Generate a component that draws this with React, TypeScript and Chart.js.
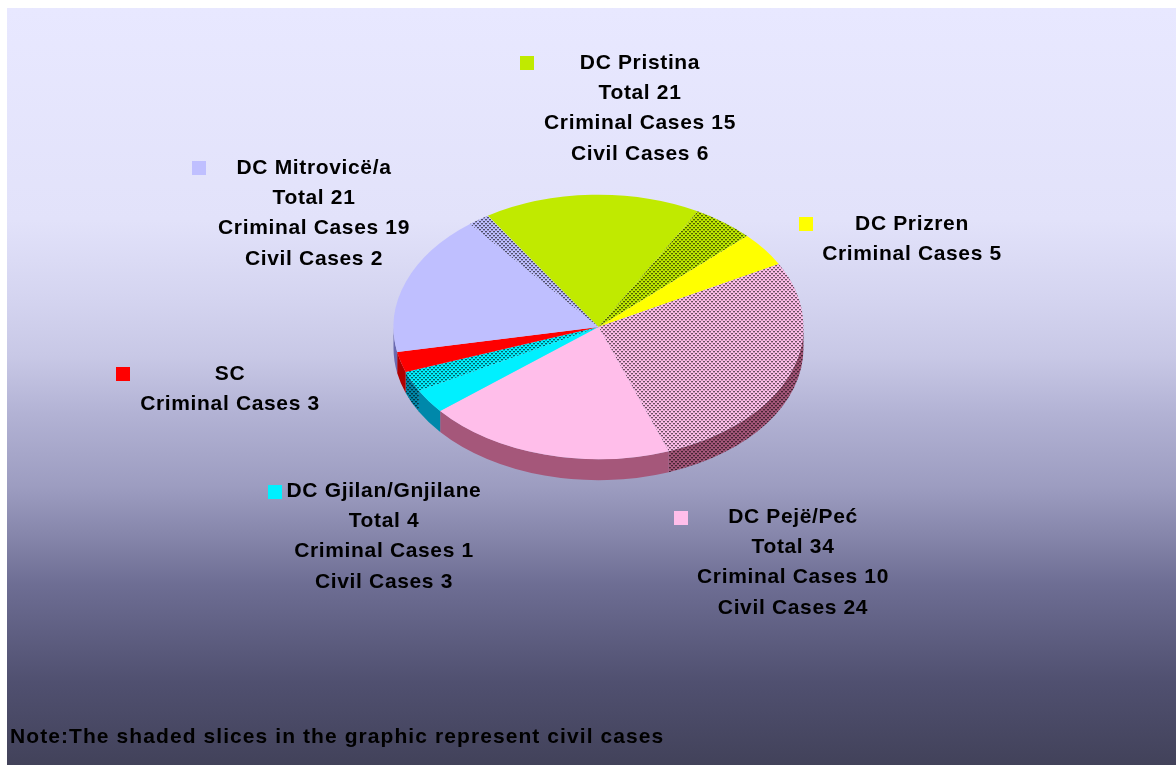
import React, { useEffect, useRef } from "react";
import { Chart, registerables } from "chart.js";

Chart.register(...registerables);

// Slice sizes (clockwise from the top-left green edge)
const sliceNames = [
  "DC Pristina criminal", "DC Pristina civil", "DC Prizren criminal",
  "DC Pejë/Peć civil", "DC Pejë/Peć criminal", "DC Gjilan/Gnjilane criminal",
  "DC Gjilan/Gnjilane civil", "SC criminal", "DC Mitrovicë/a criminal", "DC Mitrovicë/a civil",
];
const sliceValues = [15.1, 4.3, 3.7, 24.1, 17.3, 2.6, 2.2, 2.2, 15.2, 1.5];
const sliceColors = ["#C0EA00", "#C0EA00", "#FFFF00", "#FFBEEA", "#FFBEEA", "#00F0FF", "#00F0FF", "#FF0000", "#BFBFFF", "#BFBFFF"];
const sliceShaded = [false, true, false, true, false, false, true, false, false, true];
const wallColors = ["#7A9500", "#7A9500", "#A5A500", "#A5577A", "#A5577A", "#0088AA", "#0088AA", "#B00000", "#6A6AB0", "#6A6AB0"];

const labelBlocks = [
  { color: "#C0EA00", lines: ["DC Pristina", "Total 21", "Criminal Cases 15", "Civil Cases 6"], cx: 640, y: 62, mx: 527, my: 63 },
  { color: "#FFFF00", lines: ["DC Prizren", "Criminal Cases 5"], cx: 912, y: 223, mx: 806, my: 224 },
  { color: "#BFBFFF", lines: ["DC Mitrovicë/a", "Total 21", "Criminal Cases 19", "Civil Cases 2"], cx: 314, y: 167, mx: 199, my: 168 },
  { color: "#FF0000", lines: ["SC", "Criminal Cases 3"], cx: 230, y: 373, mx: 123, my: 374 },
  { color: "#00F0FF", lines: ["DC Gjilan/Gnjilane", "Total 4", "Criminal Cases 1", "Civil Cases 3"], cx: 384, y: 490, mx: 275, my: 492 },
  { color: "#FFBEEA", lines: ["DC Pejë/Peć", "Total 34", "Criminal Cases 10", "Civil Cases 24"], cx: 793, y: 516, mx: 681, my: 518 },
];
const noteText = "Note:The shaded slices in the graphic represent civil cases";

const Y_SQUASH = 0.645;
const DEPTH = 21;
const OX = 7;
const OY = 8;

function hatch(ctx: CanvasRenderingContext2D, base: string, dark = "rgba(0,0,0,0.78)") {
  const tile = document.createElement("canvas");
  tile.width = 4;
  tile.height = 4;
  const t = tile.getContext("2d")!;
  t.fillStyle = base;
  t.fillRect(0, 0, 4, 4);
  t.fillStyle = dark;
  t.fillRect(0, 0, 2, 1);
  t.fillRect(2, 2, 2, 1);
  const p = ctx.createPattern(tile, "repeat")!;
  p.setTransform(new DOMMatrix().scale(1, 1 / Y_SQUASH));
  return p;
}

const pie3d = {
  id: "pie3d",
  beforeDatasetDraw(chart: any) {
    const ctx = chart.ctx as CanvasRenderingContext2D;
    const arcs = chart.getDatasetMeta(0).data;
    const { x: cx, y: cy } = arcs[0];
    ctx.save();
    ctx.translate(0, cy);
    ctx.scale(1, Y_SQUASH);
    ctx.translate(0, -cy);
    const d = DEPTH / Y_SQUASH;
    arcs.forEach((arc: any, i: number) => {
      const segs: [number, number][] = [];
      // the visible front wall lies between 0 and PI in canvas angles
      for (const k of [0, 2 * Math.PI]) {
        const s = Math.max(arc.startAngle - k, 0);
        const e = Math.min(arc.endAngle - k, Math.PI);
        if (e > s) segs.push([s, e]);
      }
      segs.forEach(([s, e]) => {
        ctx.beginPath();
        ctx.arc(cx, cy, arc.outerRadius, s, e);
        ctx.arc(cx, cy + d, arc.outerRadius, e, s, true);
        ctx.closePath();
        ctx.fillStyle = sliceShaded[i] ? hatch(ctx, wallColors[i]) : wallColors[i];
        ctx.fill();
      });
    });
  },
  afterDatasetDraw(chart: any) {
    chart.ctx.restore();
  },
  afterDraw(chart: any) {
    const ctx = chart.ctx as CanvasRenderingContext2D;
    ctx.save();
    ctx.fillStyle = "#000";
    ctx.textAlign = "center";
    ctx.textBaseline = "middle";
    ctx.font = "bold 21px 'Liberation Sans'";
    (ctx as any).letterSpacing = "0.65px";
    labelBlocks.forEach((b) => {
      ctx.fillStyle = b.color;
      ctx.fillRect(b.mx - 7 - OX, b.my - 7 - OY, 14, 14);
      ctx.fillStyle = "#000";
      b.lines.forEach((line, i) => ctx.fillText(line, b.cx - OX, b.y + i * 30.3 - OY + 1));
    });
    ctx.textAlign = "left";
    (ctx as any).letterSpacing = "1.08px";
    ctx.fillText(noteText, 10 - OX, 737 - OY);
    ctx.restore();
  },
};

export default function App() {
  const ref = useRef<HTMLCanvasElement>(null);
  useEffect(() => {
    const ctx = ref.current!.getContext("2d")!;
    const chart = new Chart(ctx, {
      type: "pie",
      data: {
        labels: sliceNames,
        datasets: [{
          data: sliceValues,
          backgroundColor: sliceColors.map((c, i) => (sliceShaded[i] ? hatch(ctx, c) : c)),
          borderWidth: 0,
          hoverOffset: 0,
        }],
      },
      options: {
        responsive: false,
        animation: false,
        rotation: -32.7,
        layout: { padding: { left: 386.5, right: 372.5, top: 114, bottom: 233 } },
        plugins: { legend: { display: false }, tooltip: { enabled: false }, title: { display: false } },
      },
      plugins: [pie3d],
    } as any);
    return () => chart.destroy();
  }, []);
  return (
    <div style={{
      position: "absolute", left: OX, top: OY, width: 1169, height: 757, overflow: "hidden",
      background: "linear-gradient(180deg,#E8E8FF 0%,#E2E2FA 28%,#D4D4F0 38.5%,#C8C8E6 46%,#B2B2D4 53.7%,#9C9CC0 63.4%,#8585AA 69.9%,#6E6E94 76%,#505070 89%,#42425A 100%)",
    }}>
      <canvas ref={ref} width={1169} height={757} style={{ display: "block" }} />
    </div>
  );
}
